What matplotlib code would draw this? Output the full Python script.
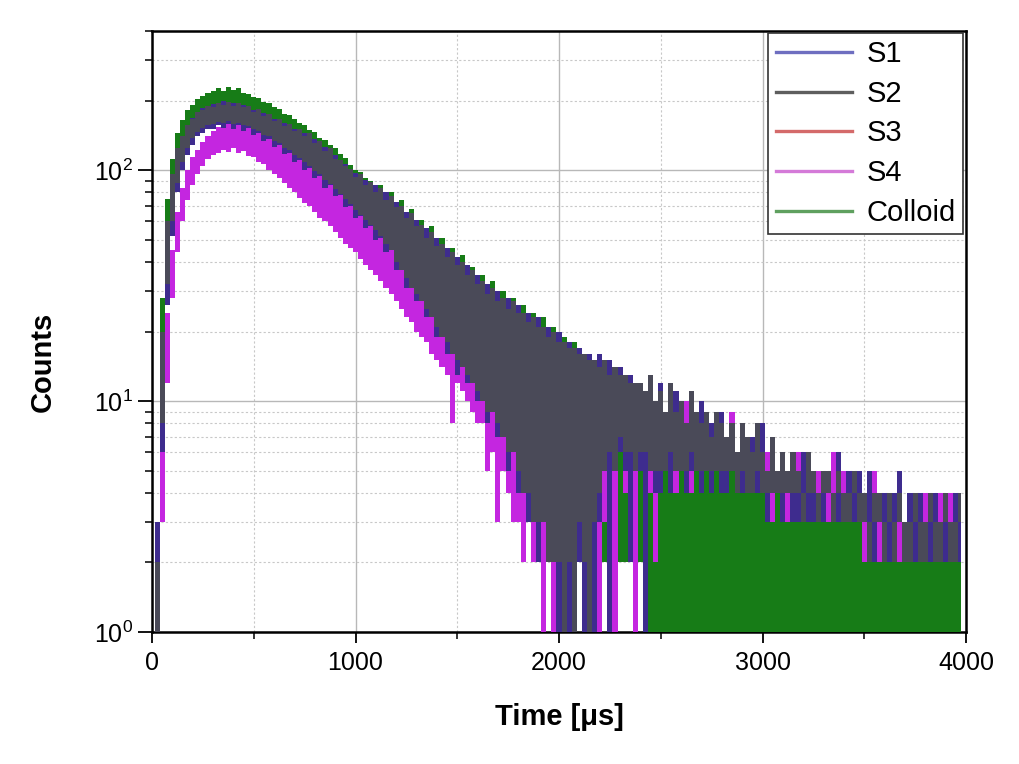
import numpy as np
import matplotlib
matplotlib.use("Agg")
import matplotlib.pyplot as plt
from matplotlib.lines import Line2D
from matplotlib.ticker import MultipleLocator, LogLocator, NullFormatter

# ---------------- data ----------------
# photon-count decay, 25 us bins; for every bin the lower / upper edge of the noisy trace
bin_us = 25
time_us = np.arange(160) * bin_us

s2_hi = [0, 2, 20, 60, 96, 124, 140, 156, 166, 178,
         182, 190, 188, 196, 191, 197, 190, 195, 187, 189,
         179, 183, 172, 175, 163, 167, 155, 158, 147, 150,
         140, 144, 131, 134, 121, 125, 112, 111, 104, 101,
         93, 96, 86, 89, 80, 84, 74, 77, 69, 70,
         62, 65, 57, 58, 51, 54, 47, 48, 42, 44,
         39, 40, 35, 37, 32, 33, 29, 31, 27, 28,
         25, 27, 24, 24, 22, 23, 21, 21, 19, 20,
         18, 18, 17, 17, 16, 16, 15, 15, 14, 15,
         13, 14, 13, 13, 12, 12, 12, 11, 13, 10,
         11, 9, 12, 9, 10, 8, 11, 9, 8, 9,
         7, 9, 8, 7, 8, 6, 8, 7, 6, 8,
         6, 5, 7, 5, 6, 5, 6, 5, 4, 6,
         5, 4, 5, 5, 4, 5, 4, 4, 5, 4,
         4, 3, 4, 4, 3, 4, 3, 4, 3, 3,
         4, 3, 3, 4, 3, 3, 4, 3, 3, 4]
s2_lo = [0, 1, 8, 32, 60, 88, 108, 124, 138, 146,
         152, 156, 158, 161, 160, 163, 159, 160, 156, 155,
         150, 148, 142, 140, 133, 131, 124, 122, 116, 113,
         108, 104, 99, 96, 91, 87, 83, 79, 75, 71,
         67, 64, 61, 58, 55, 52, 48, 45, 40, 37,
         34, 31, 29, 27, 25, 23, 21, 19, 18, 16,
         15, 14, 13, 12, 11, 10, 9, 9, 8, 7,
         6, 6, 5, 4, 4, 3, 3, 3, 2, 2,
         2, 0, 2, 0, 3, 2, 0, 3, 4, 5,
         6, 5, 7, 6, 6, 5, 6, 6, 5, 5,
         5, 5, 6, 5, 5, 5, 6, 5, 5, 5,
         5, 5, 5, 5, 5, 4, 5, 4, 4, 5,
         4, 4, 4, 4, 4, 4, 4, 4, 3, 4,
         4, 3, 4, 4, 3, 4, 3, 3, 4, 3,
         3, 2, 3, 3, 2, 3, 2, 3, 2, 2,
         3, 2, 2, 3, 2, 2, 3, 2, 2, 3]

s1_hi = [0, 3, 16, 52, 90, 116, 136, 152, 168, 174,
         186, 183, 194, 189, 199, 192, 196, 189, 191, 184,
         182, 177, 176, 169, 166, 161, 160, 152, 150, 144,
         145, 138, 136, 128, 126, 119, 116, 108, 106, 98,
         97, 92, 91, 85, 86, 79, 80, 73, 73, 67,
         66, 60, 61, 55, 56, 50, 51, 46, 46, 41,
         42, 38, 39, 34, 35, 31, 32, 29, 30, 27,
         28, 25, 26, 23, 24, 21, 23, 20, 21, 19,
         20, 17, 18, 16, 17, 15, 16, 14, 16, 14,
         15, 13, 14, 12, 13, 11, 12, 11, 12, 10,
         12, 9, 10, 11, 10, 8, 9, 8, 10, 7,
         8, 7, 9, 6, 7, 6, 8, 6, 7, 5,
         8, 5, 6, 5, 6, 5, 5, 4, 6, 5,
         5, 4, 5, 5, 4, 6, 4, 5, 4, 5,
         4, 5, 3, 4, 4, 3, 4, 5, 3, 4,
         3, 4, 3, 3, 4, 3, 4, 3, 4, 3]
s1_lo = [0, 0, 6, 26, 52, 80, 100, 116, 128, 140,
         144, 150, 150, 156, 152, 158, 150, 156, 148, 152,
         142, 144, 134, 136, 126, 128, 117, 119, 108, 110,
         100, 102, 92, 94, 84, 86, 77, 78, 69, 70,
         62, 63, 56, 57, 50, 51, 44, 45, 37, 38,
         31, 32, 27, 28, 23, 24, 19, 20, 16, 17,
         13, 14, 12, 12, 10, 10, 8, 9, 7, 7,
         5, 6, 4, 5, 3, 4, 2, 3, 2, 2,
         0, 2, 0, 2, 2, 0, 2, 0, 3, 5,
         0, 5, 6, 5, 2, 6, 5, 0, 5, 4,
         4, 5, 4, 5, 5, 4, 5, 5, 4, 5,
         4, 5, 4, 4, 5, 4, 4, 4, 4, 4,
         4, 3, 4, 4, 3, 4, 3, 3, 4, 3,
         3, 3, 3, 4, 3, 3, 3, 3, 3, 4,
         3, 3, 2, 3, 3, 2, 3, 3, 2, 3,
         2, 3, 2, 2, 3, 2, 2, 2, 3, 2]

s4_hi = [0, 0, 8, 24, 45, 66, 84, 100, 114, 122,
         132, 140, 148, 153, 157, 160, 160, 158, 155, 152,
         148, 146, 142, 139, 136, 132, 129, 125, 122, 118,
         114, 110, 106, 102, 98, 94, 90, 86, 82, 78,
         74, 70, 67, 63, 60, 57, 54, 51, 48, 45,
         43, 40, 38, 36, 34, 32, 30, 28, 27, 25,
         24, 23, 22, 20, 19, 18, 17, 16, 15, 15,
         14, 13, 12, 12, 12, 11, 10, 10, 10, 9,
         9, 9, 9, 8, 8, 8, 8, 8, 7, 8,
         7, 8, 7, 7, 7, 7, 6, 7, 8, 6,
         7, 6, 9, 6, 7, 10, 6, 7, 6, 8,
         6, 7, 6, 5, 9, 6, 5, 6, 7, 5,
         5, 6, 5, 5, 6, 5, 5, 6, 5, 4,
         5, 5, 4, 5, 6, 4, 5, 4, 5, 5,
         4, 4, 5, 3, 4, 4, 3, 4, 3, 4,
         4, 3, 4, 3, 4, 4, 3, 4, 3, 4]
s4_lo = [0, 0, 3, 12, 28, 44, 60, 74, 86, 96,
         104, 112, 116, 118, 122, 120, 124, 118, 121, 115,
         114, 108, 106, 100, 96, 92, 88, 84, 80, 76,
         72, 70, 66, 62, 60, 57, 54, 51, 48, 46,
         44, 41, 39, 37, 35, 33, 31, 29, 27, 25,
         23, 22, 20, 19, 18, 16, 15, 14, 13, 8,
         12, 11, 10, 9, 8, 8, 5, 6, 3, 5,
         4, 3, 3, 2, 3, 2, 2, 0, 2, 0,
         0, 2, 0, 0, 2, 0, 0, 2, 0, 3,
         5, 0, 6, 4, 5, 0, 5, 5, 4, 2,
         4, 5, 5, 4, 5, 5, 4, 5, 5, 5,
         4, 5, 4, 4, 5, 4, 4, 4, 5, 4,
         4, 4, 3, 4, 4, 3, 4, 4, 3, 3,
         3, 4, 3, 3, 4, 3, 3, 3, 3, 4,
         2, 3, 3, 2, 2, 3, 2, 2, 2, 3,
         2, 2, 3, 2, 2, 3, 2, 2, 2, 3]

colloid_hi = [0, 3, 28, 75, 112, 145, 165, 182, 192, 203,
              210, 216, 219, 226, 221, 229, 222, 227, 216, 214,
              207, 205, 197, 196, 187, 184, 175, 173, 166, 160,
              156, 149, 146, 138, 135, 128, 124, 117, 113, 105,
              100, 98, 92, 90, 86, 86, 78, 80, 72, 74,
              65, 68, 60, 61, 54, 57, 49, 51, 45, 46,
              41, 43, 37, 38, 34, 35, 31, 33, 28, 30,
              27, 28, 25, 26, 23, 24, 22, 23, 20, 21,
              19, 19, 18, 18, 17, 16, 16, 15, 14, 14,
              12, 11, 10, 10, 9, 9, 8, 8, 7, 7,
              7, 6, 6, 6, 6, 6, 5, 6, 6, 5,
              6, 5, 5, 5, 6, 5, 5, 5, 4, 5,
              4, 4, 5, 4, 4, 4, 4, 5, 4, 4,
              4, 4, 4, 3, 4, 4, 4, 4, 3, 4,
              3, 3, 4, 3, 3, 3, 3, 3, 3, 3,
              3, 2, 3, 2, 3, 2, 2, 3, 2, 2]
colloid_lo = [0, 1, 10, 38, 66, 92, 112, 128, 140, 148,
              154, 158, 160, 163, 162, 165, 161, 162, 158, 157,
              152, 150, 144, 142, 135, 133, 126, 124, 118, 115,
              110, 106, 101, 98, 93, 89, 85, 81, 77, 73,
              69, 66, 63, 60, 57, 54, 50, 47, 42, 39,
              36, 33, 31, 29, 27, 25, 23, 21, 20, 18,
              17, 16, 15, 14, 13, 12, 11, 10, 9, 8,
              7, 7, 6, 5, 5, 4, 4, 4, 3, 3,
              2, 2, 3, 2, 2, 3, 2, 2, 3, 2,
              2, 3, 2, 2, 2, 3, 2, 2, 0, 0] + [0] * 60

# S3 lies completely underneath S2 in the picture: its trace is read as coinciding with S2
s3_hi = list(s2_hi)
s3_lo = list(s2_lo)

labels = ["S1", "S2", "S3", "S4", "Colloid"]
x_ticks = [0, 1000, 2000, 3000, 4000]

# ---------------- styling ----------------
plt.rcParams["font.family"] = ["Liberation Sans", "DejaVu Sans"]

fill_colors = {"S1": "#3e2c8e", "S2": "#4a4a58", "S3": "#d24a4a",
               "S4": "#c426e0", "Colloid": "#177c17"}
legend_colors = {"S1": "#6e6ec0", "S2": "#5e5e5e", "S3": "#d46a6a",
                 "S4": "#d47ad8", "Colloid": "#5fa05f"}

fig = plt.figure(figsize=(10.19, 7.64), dpi=100)
ax = fig.add_axes([152 / 1019, 132 / 764, 814 / 1019, 601 / 764])
ax.set_yscale("log")

draw_order = [("Colloid", colloid_lo, colloid_hi),
              ("S4", s4_lo, s4_hi),
              ("S3", s3_lo, s3_hi),
              ("S1", s1_lo, s1_hi),
              ("S2", s2_lo, s2_hi)]
for name, lo, hi in draw_order:
    ax.fill_between(time_us, np.asarray(lo, float), np.asarray(hi, float),
                    step="mid", color=fill_colors[name], linewidth=0, zorder=3)

ax.set_xlim(0, 4000)
ax.set_ylim(1, 400)
ax.set_xticks(x_ticks)
ax.xaxis.set_minor_locator(MultipleLocator(500))
ax.yaxis.set_major_locator(LogLocator(base=10))
ax.yaxis.set_minor_locator(LogLocator(base=10, subs=np.arange(2, 10)))
ax.yaxis.set_minor_formatter(NullFormatter())

ax.grid(True, which="major", color="#b8b8b8", linewidth=1.0, linestyle="-", zorder=0)
ax.grid(True, which="minor", color="#c8c8c8", linewidth=0.8, linestyle=(0, (2, 2)), zorder=0)
ax.set_axisbelow(True)

ax.tick_params(axis="x", which="major", direction="out", length=8, width=1.3,
               labelsize=18, pad=6, top=False)
ax.tick_params(axis="y", which="major", direction="out", length=10, width=1.3,
               labelsize=18, pad=4, right=False)
ax.tick_params(which="minor", direction="out", length=5, width=1.1, top=False, right=False)
for sp in ax.spines.values():
    sp.set_linewidth(1.8)
    sp.set_color("black")

ax.set_xlabel("Time [\u03bcs]", fontsize=21, fontweight="bold")
ax.set_ylabel("Counts", fontsize=21, fontweight="bold")
ax.xaxis.set_label_coords(0.5, -0.118)
ax.yaxis.set_label_coords(-0.117, 0.449)

handles = [Line2D([], [], color=legend_colors[n], linewidth=2.4) for n in labels]
leg = ax.legend(handles, labels, loc="upper right", bbox_to_anchor=(0.996, 0.997),
                borderaxespad=0, fontsize=21, frameon=True, fancybox=False,
                framealpha=1, edgecolor="#333333", labelspacing=0.4, borderpad=0.25,
                handlelength=2.6, handletextpad=0.5)
leg.get_frame().set_linewidth(1.2)
leg.set_zorder(10)

fig.savefig("out.png", dpi=100, facecolor="white")
